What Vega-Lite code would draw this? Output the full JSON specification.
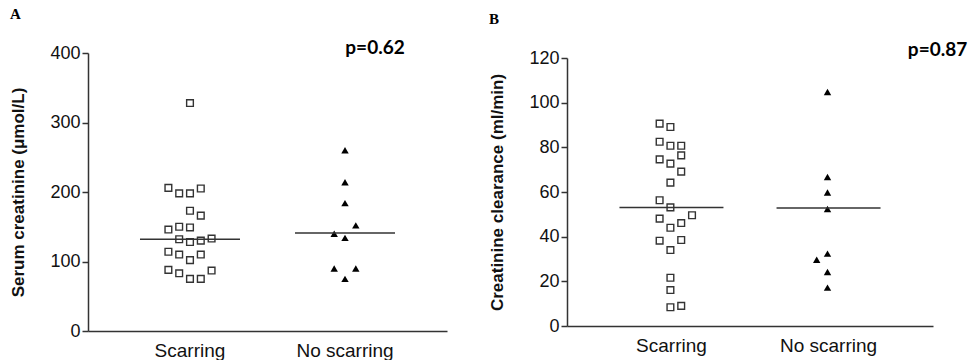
{
  "$schema": "https://vega.github.io/schema/vega-lite/v6.json",
  "padding": {"left": 9, "top": 7, "right": 0, "bottom": 0},
  "background": "white",
  "spacing": 41,
  "config": {
    "view": {"stroke": null},
    "font": "Liberation Sans",
    "axis": {
      "grid": false,
      "domainColor": "#333",
      "domainWidth": 1.5,
      "tickColor": "#333",
      "tickWidth": 1.5,
      "tickSize": 6,
      "labelFont": "Liberation Sans",
      "labelFontSize": 18,
      "labelColor": "#111",
      "titleFont": "Liberation Sans",
      "titleFontSize": 17,
      "titleFontWeight": "bold",
      "titleColor": "#111"
    },
    "axisX": {"ticks": false, "labelPadding": 10, "labelAngle": 0, "title": null, "labelFontSize": 19},
    "axisY": {"labelPadding": 2, "titlePadding": 22},
    "title": {"font": "Liberation Serif", "fontSize": 15, "fontWeight": "bold", "color": "#000", "anchor": "start", "frame": "bounds"}
  },
  "datasets": {
    "serum": [
      {"group": "Scarring", "value": 328, "slot": 0},
      {"group": "Scarring", "value": 206, "slot": -2},
      {"group": "Scarring", "value": 198, "slot": -1},
      {"group": "Scarring", "value": 198, "slot": 0},
      {"group": "Scarring", "value": 205, "slot": 1},
      {"group": "Scarring", "value": 173, "slot": 0},
      {"group": "Scarring", "value": 166, "slot": 1},
      {"group": "Scarring", "value": 146, "slot": -2},
      {"group": "Scarring", "value": 150, "slot": -1},
      {"group": "Scarring", "value": 149, "slot": 0},
      {"group": "Scarring", "value": 132, "slot": -1},
      {"group": "Scarring", "value": 128, "slot": 0},
      {"group": "Scarring", "value": 130, "slot": 1},
      {"group": "Scarring", "value": 133, "slot": 2},
      {"group": "Scarring", "value": 114, "slot": -2},
      {"group": "Scarring", "value": 110, "slot": -1},
      {"group": "Scarring", "value": 102, "slot": 0},
      {"group": "Scarring", "value": 110, "slot": 1},
      {"group": "Scarring", "value": 88, "slot": -2},
      {"group": "Scarring", "value": 83, "slot": -1},
      {"group": "Scarring", "value": 75, "slot": 0},
      {"group": "Scarring", "value": 75, "slot": 1},
      {"group": "Scarring", "value": 87, "slot": 2},
      {"group": "No scarring", "value": 260, "slot": 0},
      {"group": "No scarring", "value": 214, "slot": 0},
      {"group": "No scarring", "value": 184, "slot": 0},
      {"group": "No scarring", "value": 152, "slot": 1},
      {"group": "No scarring", "value": 140, "slot": -1},
      {"group": "No scarring", "value": 134, "slot": 0},
      {"group": "No scarring", "value": 90, "slot": -1},
      {"group": "No scarring", "value": 90, "slot": 1},
      {"group": "No scarring", "value": 75, "slot": 0}
    ],
    "serumMedian": [
      {"group": "Scarring", "value": 132},
      {"group": "No scarring", "value": 141}
    ],
    "serumP": [{"group": "No scarring", "value": 407, "label": "p=0.62"}],
    "clear": [
      {"group": "Scarring", "value": 90.6, "slot": -1},
      {"group": "Scarring", "value": 89.1, "slot": 0},
      {"group": "Scarring", "value": 82.5, "slot": -1},
      {"group": "Scarring", "value": 80.7, "slot": 0},
      {"group": "Scarring", "value": 80.7, "slot": 1},
      {"group": "Scarring", "value": 76.4, "slot": 1},
      {"group": "Scarring", "value": 74.6, "slot": -1},
      {"group": "Scarring", "value": 72.7, "slot": 0},
      {"group": "Scarring", "value": 69.1, "slot": 1},
      {"group": "Scarring", "value": 64.2, "slot": 0},
      {"group": "Scarring", "value": 56.3, "slot": -1},
      {"group": "Scarring", "value": 53.1, "slot": 0},
      {"group": "Scarring", "value": 49.6, "slot": 2},
      {"group": "Scarring", "value": 48.1, "slot": -1},
      {"group": "Scarring", "value": 46.1, "slot": 1},
      {"group": "Scarring", "value": 44.0, "slot": 0},
      {"group": "Scarring", "value": 38.2, "slot": -1},
      {"group": "Scarring", "value": 38.5, "slot": 1},
      {"group": "Scarring", "value": 34.0, "slot": 0},
      {"group": "Scarring", "value": 21.6, "slot": 0},
      {"group": "Scarring", "value": 16.1, "slot": 0},
      {"group": "Scarring", "value": 8.4, "slot": 0},
      {"group": "Scarring", "value": 9.0, "slot": 1},
      {"group": "No scarring", "value": 104.8, "slot": 0},
      {"group": "No scarring", "value": 66.7, "slot": 0},
      {"group": "No scarring", "value": 59.8, "slot": 0},
      {"group": "No scarring", "value": 52.4, "slot": 0},
      {"group": "No scarring", "value": 32.4, "slot": 0},
      {"group": "No scarring", "value": 29.7, "slot": -1},
      {"group": "No scarring", "value": 24.2, "slot": 0},
      {"group": "No scarring", "value": 17.2, "slot": 0}
    ],
    "clearMedian": [
      {"group": "Scarring", "value": 53.1},
      {"group": "No scarring", "value": 52.8}
    ],
    "clearP": [{"group": "No scarring", "value": 123.5, "label": "p=0.87"}]
  },
  "hconcat": [
    {
      "width": 359,
      "height": 278,
      "title": {"text": "A", "offset": 17},
      "encoding": {
        "x": {"field": "group", "type": "nominal",
              "scale": {"type": "band", "domain": ["Scarring", "No scarring"], "paddingInner": 0, "paddingOuter": 0.158}},
        "y": {"field": "value", "type": "quantitative",
              "scale": {"domain": [0, 400], "nice": false, "zero": true},
              "axis": {"title": "Serum creatinine (\u03bcmol/L)", "values": [0, 100, 200, 300, 400]}}
      },
      "layer": [
        {
          "data": {"name": "serum"},
          "transform": [{"filter": "datum.group === 'Scarring'"}],
          "mark": {"type": "point", "shape": "square", "filled": false, "stroke": "#333", "strokeWidth": 1.4, "size": 45, "opacity": 1},
          "encoding": {"xOffset": {"field": "slot", "type": "quantitative", "scale": {"domain": [-2, 2], "range": [55.9, 99.1]}}}
        },
        {
          "data": {"name": "serum"},
          "transform": [{"filter": "datum.group === 'No scarring'"}],
          "mark": {"type": "point", "shape": "triangle-up", "filled": true, "fill": "#000", "size": 55, "opacity": 1},
          "encoding": {"xOffset": {"field": "slot", "type": "quantitative", "scale": {"domain": [-2, 2], "range": [55.9, 99.1]}}}
        },
        {
          "data": {"name": "serumMedian"},
          "mark": {"type": "tick", "color": "#333", "thickness": 1.5, "size": 100, "orient": "horizontal", "opacity": 1}
        },
        {
          "data": {"name": "serumP"},
          "mark": {"type": "text", "fontSize": 19, "fontWeight": "bold", "color": "#000", "dx": 30, "font": "Lato"},
          "encoding": {"text": {"field": "label"}}
        }
      ]
    },
    {
      "width": 366,
      "height": 273,
      "title": {"text": "B", "offset": 14},
      "encoding": {
        "x": {"field": "group", "type": "nominal",
              "scale": {"type": "band", "domain": ["Scarring", "No scarring"], "paddingInner": 0, "paddingOuter": 0.165}},
        "y": {"field": "value", "type": "quantitative",
              "scale": {"domain": [0, 120], "nice": false, "zero": true, "range": [273, 5]},
              "axis": {"title": "Creatinine clearance (ml/min)", "values": [0, 20, 40, 60, 80, 100, 120]}}
      },
      "layer": [
        {
          "data": {"name": "clear"},
          "transform": [{"filter": "datum.group === 'Scarring'"}],
          "mark": {"type": "point", "shape": "square", "filled": false, "stroke": "#333", "strokeWidth": 1.4, "size": 45, "opacity": 1},
          "encoding": {"xOffset": {"field": "slot", "type": "quantitative", "scale": {"domain": [-2, 2], "range": [56.9, 100.1]}}}
        },
        {
          "data": {"name": "clear"},
          "transform": [{"filter": "datum.group === 'No scarring'"}],
          "mark": {"type": "point", "shape": "triangle-up", "filled": true, "fill": "#000", "size": 55, "opacity": 1},
          "encoding": {"xOffset": {"field": "slot", "type": "quantitative", "scale": {"domain": [-2, 2], "range": [56.9, 100.1]}}}
        },
        {
          "data": {"name": "clearMedian"},
          "mark": {"type": "tick", "color": "#333", "thickness": 1.5, "size": 104, "orient": "horizontal", "opacity": 1}
        },
        {
          "data": {"name": "clearP"},
          "mark": {"type": "text", "fontSize": 19, "fontWeight": "bold", "color": "#000", "dx": 109, "font": "Lato"},
          "encoding": {"text": {"field": "label"}}
        }
      ]
    }
  ]
}
